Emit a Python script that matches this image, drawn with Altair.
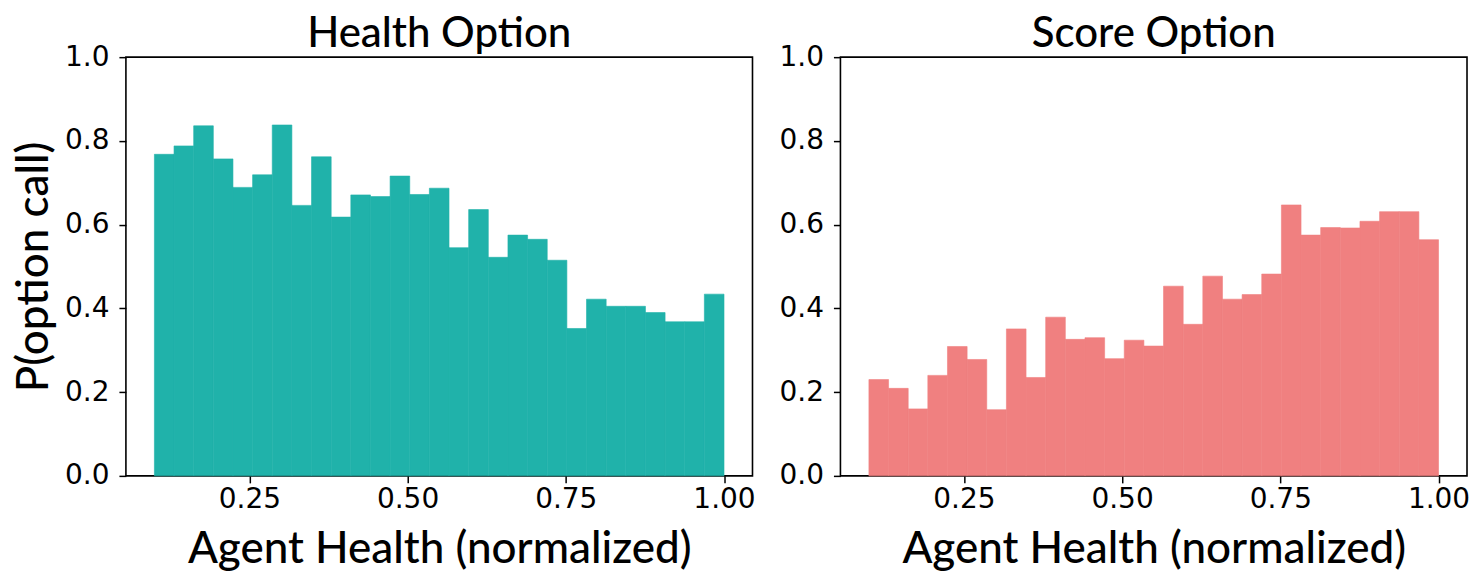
import altair as alt
import pandas as pd

# Bar heights (29 bins spanning 0.1 .. 1.0)
health_vals = [0.768, 0.788, 0.836, 0.757, 0.689, 0.719, 0.838, 0.646, 0.762, 0.618,
               0.671, 0.667, 0.716, 0.672, 0.687, 0.545, 0.636, 0.522, 0.575, 0.565,
               0.515, 0.352, 0.422, 0.405, 0.405, 0.390, 0.368, 0.368, 0.434]
score_vals = [0.230, 0.209, 0.160, 0.240, 0.309, 0.278, 0.158, 0.351, 0.235, 0.379,
              0.326, 0.330, 0.280, 0.324, 0.310, 0.453, 0.362, 0.477, 0.422, 0.433,
              0.482, 0.647, 0.575, 0.593, 0.592, 0.608, 0.631, 0.631, 0.564]
x_range = [0.1, 1.0]
x_ticks = [0.25, 0.50, 0.75, 1.00]
y_ticks = [0.0, 0.2, 0.4, 0.6, 0.8, 1.0]
titles = ["Health Option", "Score Option"]
colors = ["#20B2AA", "#F08080"]

TITLE_FONT = "Lato"
LABEL_FONT = "DejaVu Sans"


def make_df(vals):
    n = len(vals)
    w = (x_range[1] - x_range[0]) / n
    return pd.DataFrame({
        "x0": [x_range[0] + i * w for i in range(n)],
        "x1": [x_range[0] + (i + 1) * w for i in range(n)],
        "p": vals,
        "base": [0.0] * n,
    })


def panel(vals, color, title, ytitle):
    df = make_df(vals)
    if ytitle:
        yaxis = alt.Axis(values=y_ticks, format=".1f", title=ytitle, labelPadding=10,
                         titlePadding=8)
    else:
        yaxis = alt.Axis(values=y_ticks, format=".1f", title=None, labelPadding=10)
    return (
        alt.Chart(df, title=alt.Title(title, fontSize=42, font=TITLE_FONT, fontWeight=500,
                                      color="black", offset=-13))
        .mark_rect(color=color, stroke=color, strokeWidth=0.6)
        .encode(
            x=alt.X("x0:Q", scale=alt.Scale(domain=[0.055, 1.045], nice=False, zero=False),
                    axis=alt.Axis(values=x_ticks, format=".2f", title="Agent Health (normalized)",
                                  labelPadding=3, titlePadding=14)),
            x2="x1:Q",
            y=alt.Y("p:Q", scale=alt.Scale(domain=[0, 1], nice=False), axis=yaxis),
            y2="base:Q",
        )
        .properties(width=627, height=419)
    )


left = panel(health_vals, colors[0], titles[0], "P(option call)")
right = panel(score_vals, colors[1], titles[1], None)

chart = (
    alt.hconcat(left, right, spacing=21)
    .configure_view(stroke="black", strokeWidth=1.6)
    .configure_axis(
        grid=False, domain=False, ticks=True, tickSize=7, tickWidth=1.5, tickColor="black",
        labelFont=LABEL_FONT, labelFontSize=28, labelColor="black",
        titleFont=TITLE_FONT, titleFontSize=44, titleFontWeight=500, titleColor="black",
    )
    .properties(padding={"left": 11, "top": 12, "right": 10, "bottom": 5})
)

chart.save("out.html", embed_options={"renderer": "svg", "actions": False})
